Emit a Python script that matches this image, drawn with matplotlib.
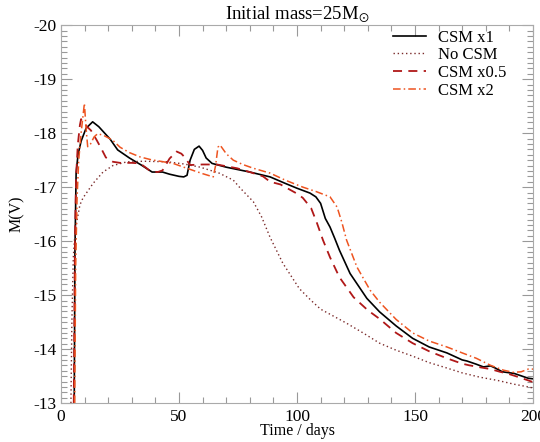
import matplotlib
matplotlib.use("Agg")
import matplotlib.pyplot as plt
from matplotlib.ticker import MultipleLocator

plt.rcParams["font.family"] = ["Liberation Serif", "DejaVu Serif"]
plt.rcParams["mathtext.fontset"] = "stix"
plt.rcParams["axes.unicode_minus"] = False

# --- light curves (days, M(V)) ---
csm1_t = [5.6, 5.9, 6.4, 7.2, 8.5, 10.6, 13.4, 16, 20.8, 24, 29, 34, 38.6, 43, 46,
          50, 52, 53.4, 54.7, 56.5, 58.5, 60, 61.5, 64, 70, 80, 88.6, 95, 100,
          105.5, 108, 110, 112, 114, 116, 118, 122.5, 129.6, 135, 142, 149, 156,
          163.5, 170, 172, 176, 179, 182, 184, 187, 192, 198, 200]
csm1_m = [-13.0, -15.8, -17.26, -17.6, -17.85, -18.09, -18.21, -18.12, -17.89,
          -17.69, -17.54, -17.41, -17.28, -17.28, -17.24, -17.2, -17.19, -17.22,
          -17.5, -17.7, -17.76, -17.68, -17.54, -17.44, -17.37, -17.28, -17.19,
          -17.07, -16.98, -16.89, -16.82, -16.70, -16.42, -16.26, -16.05, -15.83,
          -15.4, -14.94, -14.69, -14.43, -14.2, -14.04, -13.93, -13.8, -13.78,
          -13.72, -13.67, -13.69, -13.65, -13.58, -13.55, -13.46, -13.45]

nocsm_t = [4.2, 4.6, 5.2, 6, 8, 9.3, 13.6, 17.8, 22, 28, 35, 45, 52, 59, 67, 73,
           76, 81.5, 85, 88.6, 94, 101, 106, 110, 121, 128, 135, 142, 149, 156,
           163.5, 170, 177.5, 185, 192, 198, 200]
nocsm_m = [-13.0, -14.5, -15.7, -16.2, -16.67, -16.8, -17.07, -17.28, -17.4,
           -17.47, -17.48, -17.47, -17.43, -17.37, -17.26, -17.13, -16.98, -16.73,
           -16.45, -16.07, -15.59, -15.12, -14.9, -14.74, -14.48, -14.3, -14.11,
           -13.98, -13.87, -13.75, -13.65, -13.56, -13.48, -13.42, -13.35, -13.30,
           -13.28]

csm05_t = [5.4, 5.9, 6.4, 7.1, 8.0, 8.5, 9.5, 11, 12.7, 15, 17, 19, 22, 25, 30,
           33.5, 36, 38, 41, 43, 44.5, 46, 49, 51, 52.5, 54.7, 60, 66, 74.6, 80,
           85.6, 88.6, 93, 100, 102.5, 106, 108.5, 111, 114, 118, 124, 130, 135,
           142, 149, 156, 163.5, 170, 173, 178, 182, 186, 189, 194, 198, 200]
csm05_m = [-13.0, -16.0, -17.2, -17.78, -18.15, -18.26, -18.2, -18.12, -18.05,
           -17.88, -17.72, -17.55, -17.47, -17.45, -17.45, -17.44, -17.36, -17.29,
           -17.28, -17.31, -17.42, -17.53, -17.66, -17.62, -17.55, -17.41, -17.42,
           -17.42, -17.35, -17.28, -17.2, -17.1, -17.05, -16.88, -16.80, -16.61,
           -16.33, -16.02, -15.7, -15.33, -14.96, -14.72, -14.56, -14.3, -14.11,
           -13.96, -13.83, -13.73, -13.70, -13.66, -13.63, -13.58, -13.55, -13.48,
           -13.42, -13.39]

csm2_t = [5.8, 6.2, 6.8, 7.5, 8.5, 9.9, 10.6, 11.3, 12.5, 14, 15.5, 18, 21.9, 25,
          29, 33.5, 38, 42, 47.5, 52, 56, 60, 64.5, 65.5, 66.5, 67.4, 70, 73, 77,
          81.5, 88.6, 95, 102.5, 108, 114, 117, 119, 121, 125.4, 131, 135, 142,
          149, 156, 163.5, 170, 176, 182, 187.5, 191.6, 195, 198, 200]
csm2_m = [-13.0, -15.5, -16.8, -17.5, -18.0, -18.55, -18.1, -17.75, -17.8,
          -17.93, -17.99, -17.96, -17.87, -17.74, -17.64, -17.56, -17.51, -17.48,
          -17.44, -17.37, -17.31, -17.25, -17.19, -17.4, -17.74, -17.78, -17.62,
          -17.5, -17.42, -17.35, -17.26, -17.13, -17.0, -16.92, -16.82, -16.63,
          -16.35, -16.02, -15.52, -15.09, -14.87, -14.55, -14.30, -14.15, -14.04,
          -13.93, -13.83, -13.70, -13.61, -13.57, -13.58, -13.63, -13.63]

fig = plt.figure(figsize=(5.4, 4.42), dpi=100)
ax = fig.add_axes([0.113, 0.088, 0.874, 0.855])

ax.plot(csm1_t, csm1_m, color="black", lw=1.2, label="CSM x1")
ax.plot(nocsm_t, nocsm_m, color="#7a2a2a", lw=1.0, linestyle=(0, (1, 2)),
        label="No CSM")
ax.plot(csm05_t, csm05_m, color="#b01818", lw=1.3, linestyle=(0, (5, 3.5)),
        label="CSM x0.5")
ax.plot(csm2_t, csm2_m, color="#ee5420", lw=1.1,
        linestyle=(0, (5, 2, 1, 2)), label="CSM x2")

ax.set_xlim(0, 200)
ax.set_ylim(-13, -20)
ax.xaxis.set_major_locator(MultipleLocator(50))
ax.xaxis.set_minor_locator(MultipleLocator(10))
ax.yaxis.set_major_locator(MultipleLocator(1))
ax.yaxis.set_minor_locator(MultipleLocator(0.1))
ax.tick_params(which="both", direction="in", top=True, right=True,
               color="#999999", labelsize=12.5)
ax.tick_params(which="major", length=8, width=0.8)
ax.tick_params(which="minor", length=4, width=0.8)
ax.tick_params(axis="x", pad=4)
for sp in ax.spines.values():
    sp.set_color("#aaaaaa")
    sp.set_linewidth(0.8)

ax.set_xlabel("Time / days", fontsize=11.5, labelpad=-1)
ax.set_ylabel("M(V)", fontsize=11.5, labelpad=6)
ax.set_title(r"Initial mass=25M$_{\odot}$", fontsize=13.5, pad=3)

ax.legend(loc="upper right", bbox_to_anchor=(0.965, 1.015), frameon=False,
          fontsize=12, handlelength=2.0, handletextpad=0.7,
          labelspacing=0.1, borderaxespad=0.2)

fig.savefig("out.png", dpi=100)
